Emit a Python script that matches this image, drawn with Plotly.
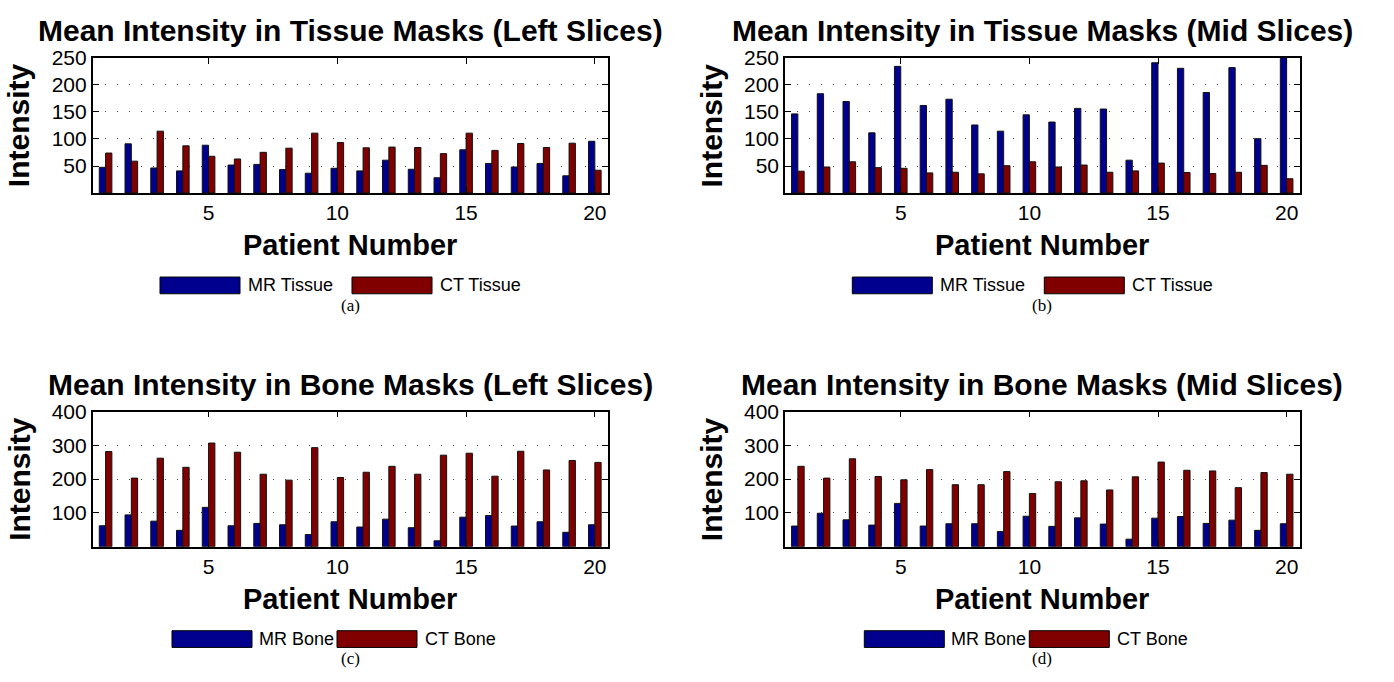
import plotly.graph_objects as go

patients = list(range(1, 21))

tissue_left_mr = [47.6, 91, 46.4, 41, 88.5, 51.8, 53, 43.4, 36.7, 45.8, 41, 60.8, 44, 28.3, 80, 54.8, 48.2, 54.8, 31.9, 95.8]
tissue_left_ct = [74, 59, 114.5, 87.3, 68, 63, 75.3, 83, 110.8, 93.4, 83.7, 85, 84.3, 72.9, 110.8, 78.9, 91.6, 84.3, 92.2, 42.2]

tissue_mid_mr = [146.4, 183.7, 169.3, 111.4, 234.3, 162, 173.5, 125.9, 114.5, 144.6, 131.3, 156.6, 155.4, 60.8, 241, 230.7, 186, 232, 100.6, 252]
tissue_mid_ct = [40.4, 48.2, 57.8, 47, 45.8, 37.3, 38.5, 35.5, 50.6, 57.8, 48.2, 51.8, 38.5, 41, 55.4, 38, 36.1, 38.5, 51.2, 26.5]

bone_left_mr = [62, 94.2, 75.7, 48.5, 116.5, 62, 69, 65, 36, 73.8, 58.3, 81.6, 56.3, 17.5, 87.4, 92.2, 61.2, 73.8, 42.7, 65]
bone_left_ct = [281.6, 203, 262, 235, 306.8, 279.6, 214.6, 197, 293.2, 204.9, 220.4, 237.9, 214.6, 270.9, 276.7, 208.7, 282.5, 227.2, 255.3, 249.5]

bone_mid_mr = [61.2, 99, 79.6, 64, 128.2, 61.2, 68, 68, 44.7, 90.3, 60.2, 85.4, 67, 22.3, 84.5, 89.3, 69, 78.6, 48.5, 68]
bone_mid_ct = [237.9, 203, 260.2, 207.8, 198, 228.2, 183.5, 183.5, 222.3, 157.3, 192.2, 195.1, 168, 206.8, 250.5, 226.2, 224.3, 174.8, 219.4, 214.6]

titles = ["Mean Intensity in Tissue Masks (Left Slices)",
          "Mean Intensity in Tissue Masks (Mid Slices)",
          "Mean Intensity in Bone Masks (Left Slices)",
          "Mean Intensity in Bone Masks (Mid Slices)"]
legend_names = [("MR Tissue", "CT Tissue"), ("MR Tissue", "CT Tissue"),
                ("MR Bone", "CT Bone"), ("MR Bone", "CT Bone")]
captions = ["(a)", "(b)", "(c)", "(d)"]
y_ticks = [[50, 100, 150, 200, 250], [50, 100, 150, 200, 250],
           [100, 200, 300, 400], [100, 200, 300, 400]]
y_max = [250, 250, 400, 400]
x_ticks = [5, 10, 15, 20]
series = [(tissue_left_mr, tissue_left_ct), (tissue_mid_mr, tissue_mid_ct),
          (bone_left_mr, bone_left_ct), (bone_mid_mr, bone_mid_ct)]

W, H = 1394, 682
BLUE = "#00008F"
RED = "#800000"
SANS = "Liberation Sans, Arial, Helvetica, sans-serif"
SERIF = "Liberation Serif, Times New Roman, serif"

# panel pixel boxes (left, right, top, bottom)
boxes = [(92.7, 607.7, 46.7, 184.3), (785.0, 1299.5, 46.7, 184.3),
         (92.7, 607.7, 406.7, 544.3), (785.0, 1299.5, 406.7, 544.3)]

def px(x):
    return x / W

def py(y):
    return 1 - y / H

fig = go.Figure()
annotations = []
shapes = []
layout = {}

for i in range(4):
    xa = "x" if i == 0 else f"x{i+1}"
    ya = "y" if i == 0 else f"y{i+1}"
    l, r, t, b = boxes[i]
    mr, ct = series[i]
    n1, n2 = legend_names[i]
    fig.add_trace(go.Bar(x=patients, y=mr, name=n1, xaxis=xa, yaxis=ya,
                         marker=dict(color=BLUE, line=dict(color="#111111", width=1)),
                         showlegend=False))
    fig.add_trace(go.Bar(x=patients, y=ct, name=n2, xaxis=xa, yaxis=ya,
                         marker=dict(color=RED, line=dict(color="#111111", width=1)),
                         showlegend=False))
    xkey = "xaxis" if i == 0 else f"xaxis{i+1}"
    ykey = "yaxis" if i == 0 else f"yaxis{i+1}"
    layout[xkey] = dict(domain=[px(l), px(r)], anchor=ya, range=[0.5, 20.5],
                        tickvals=x_ticks, ticks="inside", ticklen=6, tickwidth=1,
                        tickcolor="black", showline=True, linecolor="black",
                        linewidth=1.6, mirror="ticks", showgrid=False, zeroline=False,
                        tickfont=dict(family=SANS, size=21, color="black"))
    layout[ykey] = dict(domain=[py(b), py(t)], anchor=xa, range=[0, y_max[i]],
                        tickvals=y_ticks[i], ticks="inside", ticklen=6, tickwidth=1,
                        tickcolor="black", showline=True, linecolor="black",
                        linewidth=1.6, mirror="ticks", showgrid=True,
                        gridcolor="#444444", gridwidth=1, griddash="1px,11px",
                        zeroline=False,
                        tickfont=dict(family=SANS, size=21, color="black"))
    cx = (l + r) / 2
    # title
    annotations.append(dict(text=f"<b>{titles[i]}</b>", x=px(cx), y=py(t - 28),
                            xref="paper", yref="paper", xanchor="center", yanchor="middle",
                            showarrow=False, font=dict(family=SANS, size=30, color="black")))
    # y label
    annotations.append(dict(text="<b>Intensity</b>", x=px(l - 74), y=py((t + b) / 2),
                            xref="paper", yref="paper", xanchor="center", yanchor="middle",
                            textangle=-90, showarrow=False,
                            font=dict(family=SANS, size=30, color="black")))
    # x label
    annotations.append(dict(text="<b>Patient Number</b>", x=px(cx), y=py(b + 53),
                            xref="paper", yref="paper", xanchor="center", yanchor="middle",
                            showarrow=False, font=dict(family=SANS, size=29, color="black")))
    # legend
    if i % 2 == 0:
        base = 0.0
    else:
        base = boxes[1][0] - boxes[0][0]
    if "Tissue" in n1:
        b1, t1, b2, t2 = 160, 246, 352, 438
    else:
        b1, t1, b2, t2 = 172, 257, 337, 423
    ly = b + 94
    for bx, col in ((b1, BLUE), (b2, RED)):
        shapes.append(dict(type="rect", xref="paper", yref="paper",
                           x0=px(bx + base), x1=px(bx + base + 80),
                           y0=py(ly + 8.5), y1=py(ly - 8.5),
                           fillcolor=col, line=dict(color="black", width=1)))
    for tx, name in ((t1, n1), (t2, n2)):
        annotations.append(dict(text=name, x=px(tx + base), y=py(ly), xref="paper", yref="paper",
                                xanchor="left", yanchor="middle", showarrow=False,
                                font=dict(family=SANS, size=18, color="black")))
    # caption
    annotations.append(dict(text=captions[i], x=px(cx), y=py(b + 114), xref="paper", yref="paper",
                            xanchor="center", yanchor="middle", showarrow=False,
                            font=dict(family=SERIF, size=17, color="black")))

fig.update_layout(**layout)
fig.update_layout(width=W, height=H, margin=dict(l=0, r=0, t=0, b=0),
                  paper_bgcolor="white", plot_bgcolor="white",
                  barmode="group", bargap=0.51, bargroupgap=0.0,
                  annotations=annotations, shapes=shapes, showlegend=False)

fig.write_html("out.html", config={"displayModeBar": False},
               post_script="document.body.style.margin='0';document.body.style.overflow='hidden';")
